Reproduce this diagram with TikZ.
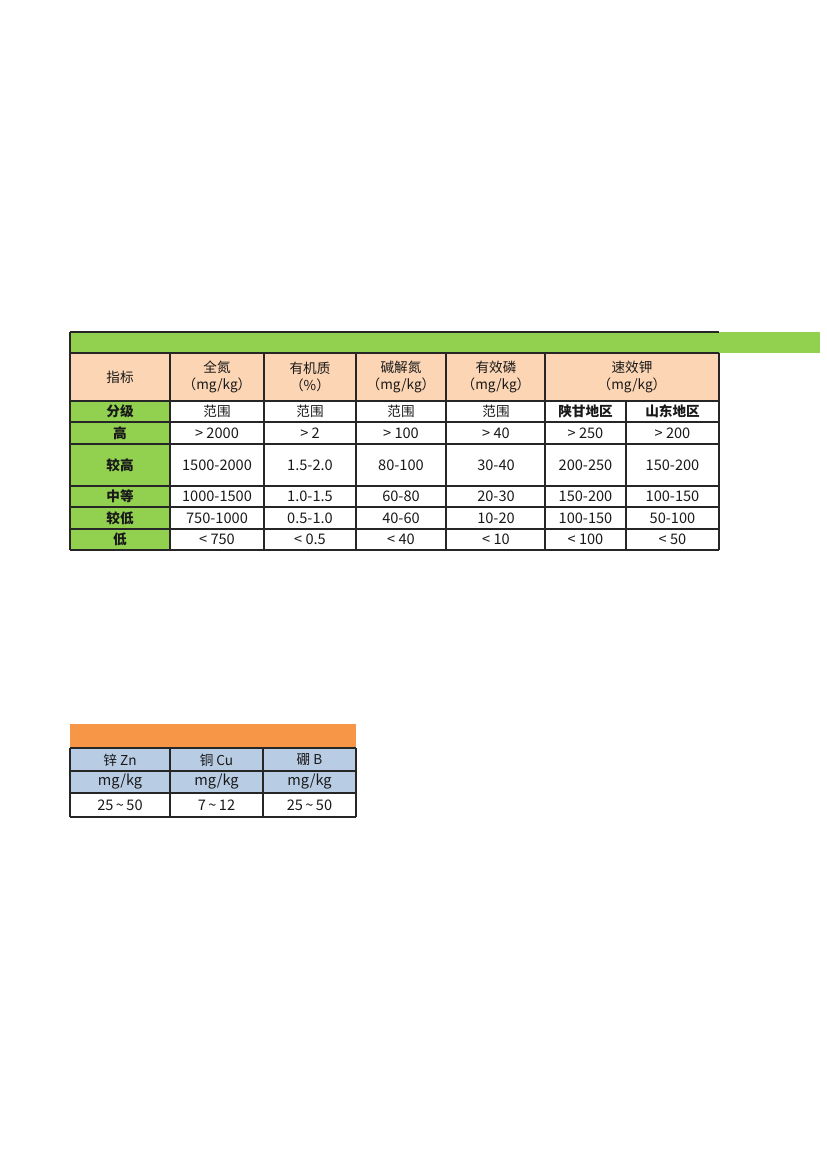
\documentclass[tikz,border=0pt]{standalone}
\usepackage{fontspec}
\setmainfont{Noto Sans CJK SC}
\definecolor{xlgreen}{HTML}{92D050}
\definecolor{xlpeach}{HTML}{FCD5B4}
\definecolor{xlorange}{HTML}{F79646}
\definecolor{xlblue}{HTML}{B8CCE4}
\definecolor{xlline}{HTML}{262626}
\begin{document}
\begin{tikzpicture}[x=0.7198pt,y=-0.7198pt,
  every node/.style={font=\fontsize{9.8}{12.5}\selectfont, inner sep=0pt, text=black!90},
  grid/.style={draw=xlline, line width=0.85pt},
  hd/.style={align=center},
  num/.style={font=\fontsize{10.5}{12.5}\selectfont},
  bf/.style={font=\fontsize{9.8}{12.5}\selectfont\bfseries}]
\useasboundingbox (0,0) rectangle (827,1169);
% ---------- top table fills
\fill[xlgreen] (70,332) rectangle (820,353);
\fill[xlpeach] (70,353) rectangle (719,401);
\fill[xlgreen] (70,401) rectangle (170,550);
% ---------- top table grid
\foreach \yy in {332,353,401,422,444,486,507,529,550}
  \draw[grid] (70,\yy) -- (719,\yy);
\draw[grid] (70,332) -- (70,550);
\draw[grid] (719,353) -- (719,550);
\foreach \xx in {170,264,356,446,545}
  \draw[grid] (\xx,353) -- (\xx,550);
\draw[grid] (626,401) -- (626,550);
% ---------- header
\node[hd] (h0) at (120,377) {指标};
\node[hd] (h1) at (217,377) {全氮\\（mg/kg）};
\node[hd] (h2) at (310,377) {有机质\\（\%）};
\node[hd] (h3) at (401,377) {碱解氮\\（mg/kg）};
\node[hd] (h4) at (496,377) {有效磷\\（mg/kg）};
\node[hd] (h5) at (632,377) {速效钾\\（mg/kg）};
% ---------- row labels
\node[bf] (r0) at (120,411.5) {分级};
\node[bf] (r1) at (120,433) {高};
\node[bf] (r2) at (120,465) {较高};
\node[bf] (r3) at (120,496.5) {中等};
\node[bf] (r4) at (120,518) {较低};
\node[bf] (r5) at (120,539.5) {低};
% ---------- row 分级
\node (a1) at (217,411.5) {范围};
\node (a2) at (310,411.5) {范围};
\node (a3) at (401,411.5) {范围};
\node (a4) at (496,411.5) {范围};
\node[bf] (a5) at (585.5,411.5) {陕甘地区};
\node[bf] (a6) at (672.5,411.5) {山东地区};
% ---------- row 高
\node[num] (b1) at (217,433) {> 2000};
\node[num] (b2) at (310,433) {> 2};
\node[num] (b3) at (401,433) {> 100};
\node[num] (b4) at (496,433) {> 40};
\node[num] (b5) at (585.5,433) {> 250};
\node[num] (b6) at (672.5,433) {> 200};
% ---------- row 较高
\node[num] (c1) at (217,465) {1500-2000};
\node[num] (c2) at (310,465) {1.5-2.0};
\node[num] (c3) at (401,465) {80-100};
\node[num] (c4) at (496,465) {30-40};
\node[num] (c5) at (585.5,465) {200-250};
\node[num] (c6) at (672.5,465) {150-200};
% ---------- row 中等
\node[num] (d1) at (217,496.5) {1000-1500};
\node[num] (d2) at (310,496.5) {1.0-1.5};
\node[num] (d3) at (401,496.5) {60-80};
\node[num] (d4) at (496,496.5) {20-30};
\node[num] (d5) at (585.5,496.5) {150-200};
\node[num] (d6) at (672.5,496.5) {100-150};
% ---------- row 较低
\node[num] (e1) at (217,518) {750-1000};
\node[num] (e2) at (310,518) {0.5-1.0};
\node[num] (e3) at (401,518) {40-60};
\node[num] (e4) at (496,518) {10-20};
\node[num] (e5) at (585.5,518) {100-150};
\node[num] (e6) at (672.5,518) {50-100};
% ---------- row 低
\node[num] (f1) at (217,539.5) {< 750};
\node[num] (f2) at (310,539.5) {< 0.5};
\node[num] (f3) at (401,539.5) {< 40};
\node[num] (f4) at (496,539.5) {< 10};
\node[num] (f5) at (585.5,539.5) {< 100};
\node[num] (f6) at (672.5,539.5) {< 50};
% ---------- bottom table
\fill[xlorange] (70,724) rectangle (356,748);
\fill[xlblue] (70,748) rectangle (356,793);
\foreach \yy in {748,771,793,817}
  \draw[grid] (70,\yy) -- (356,\yy);
\foreach \xx in {70,170,263,356}
  \draw[grid] (\xx,748) -- (\xx,817);
\node (m1) at (120,760) {锌 Zn};
\node (m2) at (216.5,760) {铜 Cu};
\node (m3) at (309.5,760) {硼 B};
\node[num] (u1) at (120,782) {mg/kg};
\node[num] (u2) at (216.5,782) {mg/kg};
\node[num] (u3) at (309.5,782) {mg/kg};
\node[num] (v1) at (120,805) {25\,\textasciitilde\,50};
\node[num] (v2) at (216.5,805) {7\,\textasciitilde\,12};
\node[num] (v3) at (309.5,805) {25\,\textasciitilde\,50};
\end{tikzpicture}
\end{document}
